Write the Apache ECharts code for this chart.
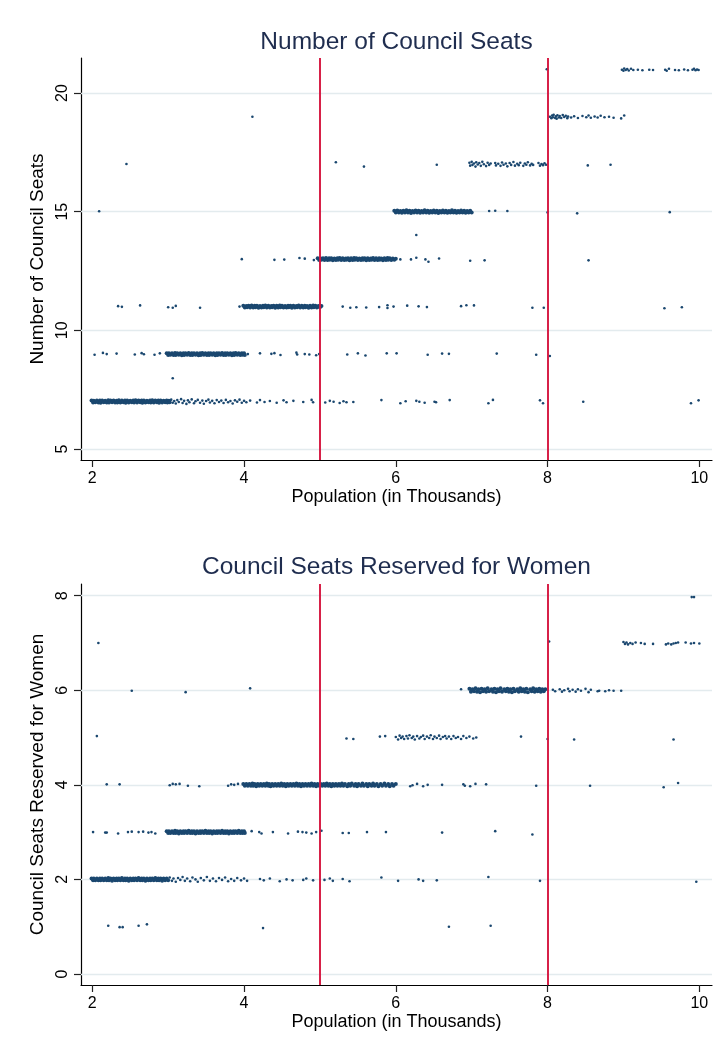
<!DOCTYPE html>
<html>
<head>
<meta charset="utf-8">
<script src="https://cdn.jsdelivr.net/npm/echarts@6/dist/echarts.min.js"></script>
<style>html,body{margin:0;padding:0;background:#fff}#c{width:716px;height:1051px}</style>
</head>
<body>
<div id="c"></div>
<script>
// ---- tick labels & reference values ----
const xTicks = [2, 4, 6, 8, 10];
const seatTicks = [5, 10, 15, 20];
const womenTicks = [0, 2, 4, 6, 8];
const thresholds = [5, 8];
const titleTop = 'Number of Council Seats';
const titleBottom = 'Council Seats Reserved for Women';
const xName = 'Population (in Thousands)';
const yNameTop = 'Number of Council Seats';
const yNameBottom = 'Council Seats Reserved for Women';

// ---- top panel: [population (thousands), seats] ----
const seatsBand7 = [[1.99,7.04],[2.01,6.96],[2.02,7.03],[2.04,6.97],[2.06,7.04],[2.08,6.96],[2.10,7.04],[2.11,6.95],[2.13,7.04],[2.15,6.97],[2.17,7.03],[2.19,6.96],[2.21,7.05],[2.22,6.96],[2.24,7.04],[2.26,6.97],[2.28,7.04],[2.30,6.96],[2.32,7.03],[2.33,6.96],[2.35,7.05],[2.37,6.96],[2.39,7.04],[2.41,6.97],[2.43,7.04],[2.44,6.95],[2.46,7.04],[2.48,6.96],[2.50,7.03],[2.52,6.97],[2.54,7.04],[2.55,6.96],[2.57,7.05],[2.59,6.96],[2.61,7.04],[2.63,6.97],[2.65,7.04],[2.66,6.95],[2.68,7.04],[2.70,6.96],[2.72,7.03],[2.74,6.97],[2.76,7.04],[2.77,6.96],[2.79,7.05],[2.81,6.96],[2.83,7.04],[2.85,6.97],[2.87,7.04],[2.88,6.95],[2.90,7.04],[2.92,6.96],[2.94,7.03],[2.96,6.97],[2.98,7.04],[2.99,6.96],[3.01,7.03],[3.02,6.97]];
const seatsBand9 = [[2.98,9.04],[3.00,8.96],[3.01,9.03],[3.03,8.97],[3.05,9.04],[3.07,8.96],[3.09,9.05],[3.10,8.96],[3.12,9.04],[3.14,8.97],[3.16,9.04],[3.18,8.95],[3.20,9.03],[3.21,8.96],[3.23,9.04],[3.25,8.97],[3.27,9.05],[3.29,8.96],[3.31,9.04],[3.32,8.96],[3.34,9.03],[3.36,8.97],[3.38,9.04],[3.40,8.95],[3.42,9.04],[3.43,8.96],[3.45,9.05],[3.47,8.97],[3.49,9.04],[3.51,8.96],[3.53,9.03],[3.54,8.96],[3.56,9.04],[3.58,8.97],[3.60,9.04],[3.62,8.95],[3.64,9.04],[3.65,8.96],[3.67,9.03],[3.69,8.97],[3.71,9.05],[3.73,8.96],[3.75,9.04],[3.76,8.96],[3.78,9.04],[3.80,8.97],[3.82,9.03],[3.84,8.95],[3.86,9.04],[3.87,8.96],[3.89,9.05],[3.91,8.97],[3.93,9.04],[3.95,8.96],[3.97,9.03],[3.98,8.97],[4.00,9.04],[4.01,8.96]];
const seatsBand11 = [[3.99,11.04],[4.01,10.96],[4.03,11.03],[4.04,10.97],[4.06,11.04],[4.08,10.96],[4.10,11.05],[4.12,10.96],[4.14,11.04],[4.15,10.97],[4.17,11.04],[4.19,10.95],[4.21,11.03],[4.23,10.96],[4.25,11.04],[4.26,10.97],[4.28,11.05],[4.30,10.96],[4.32,11.04],[4.34,10.96],[4.36,11.03],[4.37,10.97],[4.39,11.04],[4.41,10.95],[4.43,11.04],[4.45,10.96],[4.47,11.05],[4.48,10.97],[4.50,11.04],[4.52,10.96],[4.54,11.03],[4.56,10.96],[4.58,11.04],[4.59,10.97],[4.61,11.04],[4.63,10.95],[4.65,11.04],[4.67,10.96],[4.69,11.03],[4.70,10.97],[4.72,11.05],[4.74,10.96],[4.76,11.04],[4.78,10.96],[4.80,11.04],[4.81,10.97],[4.83,11.03],[4.85,10.95],[4.87,11.04],[4.89,10.96],[4.91,11.05],[4.92,10.97],[4.94,11.04],[4.96,10.96],[4.98,11.03],[5.00,10.97],[5.02,11.03]];
const seatsBand13 = [[4.97,13.04],[4.99,12.96],[5.01,13.03],[5.02,12.97],[5.04,13.04],[5.06,12.96],[5.08,13.05],[5.10,12.96],[5.12,13.04],[5.13,12.97],[5.15,13.04],[5.17,12.95],[5.19,13.03],[5.21,12.96],[5.23,13.04],[5.24,12.97],[5.26,13.05],[5.28,12.96],[5.30,13.04],[5.32,12.96],[5.34,13.03],[5.35,12.97],[5.37,13.04],[5.39,12.95],[5.41,13.04],[5.43,12.96],[5.45,13.05],[5.46,12.97],[5.48,13.04],[5.50,12.96],[5.52,13.03],[5.54,12.96],[5.56,13.04],[5.57,12.97],[5.59,13.04],[5.61,12.95],[5.63,13.04],[5.65,12.96],[5.67,13.03],[5.68,12.97],[5.70,13.05],[5.72,12.96],[5.74,13.04],[5.76,12.96],[5.78,13.04],[5.79,12.97],[5.81,13.03],[5.83,12.95],[5.85,13.04],[5.87,12.96],[5.89,13.05],[5.90,12.97],[5.92,13.04],[5.94,12.96],[5.96,13.03],[5.98,12.97],[6.00,13.02]];
const seatsBand15 = [[5.98,15.04],[6.00,14.96],[6.02,15.05],[6.04,14.97],[6.06,15.03],[6.08,14.95],[6.10,15.04],[6.12,14.96],[6.14,15.06],[6.16,14.97],[6.18,15.04],[6.20,14.94],[6.22,15.03],[6.24,14.96],[6.26,15.05],[6.28,14.97],[6.30,15.04],[6.32,14.95],[6.34,15.03],[6.36,14.96],[6.38,15.06],[6.40,14.97],[6.42,15.04],[6.44,14.95],[6.46,15.03],[6.48,14.96],[6.50,15.05],[6.52,14.97],[6.54,15.04],[6.56,14.94],[6.58,15.03],[6.60,14.96],[6.62,15.05],[6.64,14.97],[6.66,15.04],[6.68,14.95],[6.70,15.03],[6.72,14.96],[6.74,15.06],[6.76,14.97],[6.78,15.04],[6.80,14.95],[6.82,15.03],[6.84,14.96],[6.86,15.05],[6.88,14.97],[6.90,15.04],[6.92,14.95],[6.94,15.03],[6.96,14.97],[6.98,15.04],[7.00,14.97]];

const seatsScatter7 = [[3.04,7.08],[3.06,6.95],[3.08,7.02],[3.10,6.92],[3.12,7.06],[3.14,6.98],[3.17,7.10],[3.19,6.94],[3.21,7.03],[3.24,6.90],[3.26,7.05],[3.28,6.97],[3.31,7.09],[3.34,6.93],[3.36,7.01],[3.39,7.07],[3.42,6.95],[3.45,7.04],[3.47,6.91],[3.50,7.02],[3.53,7.08],[3.55,6.96],[3.58,7.03],[3.61,6.93],[3.64,7.06],[3.67,6.98],[3.70,7.04],[3.73,6.94],[3.76,7.07],[3.79,6.97],[3.82,7.02],[3.85,6.92],[3.88,7.05],[3.91,6.99],[3.94,7.08],[3.97,6.95],[4.00,7.03],[4.03,6.97],[4.08,7.04],[4.17,6.96],[4.21,7.06],[4.27,6.98],[4.34,7.02],[4.43,6.95],[4.52,7.05],[4.56,6.97],[4.65,7.03],[4.78,6.98],[4.89,7.07],[4.91,6.97],[5.07,6.96],[5.13,7.03],[5.18,6.99],[5.26,6.94],[5.31,7.01],[5.35,6.97],[5.44,6.98],[5.81,7.06],[6.06,6.93],[6.13,7.01],[6.27,7.03],[6.31,6.99],[6.38,6.95],[6.51,6.99],[6.53,6.97],[6.71,7.06],[7.22,6.93],[7.28,7.07],[7.90,7.05],[7.94,6.93],[8.47,6.99],[9.89,6.93],[9.99,7.05]];
const seatsScatter8 = [[3.06,7.98]];
const seatsScatter9 = [[2.03,8.97],[2.14,9.05],[2.19,9.00],[2.32,9.02],[2.56,8.98],[2.65,9.04],[2.68,8.99],[2.82,8.97],[2.89,9.03],[4.05,9.00],[4.21,9.03],[4.36,9.01],[4.40,9.04],[4.48,8.96],[4.69,9.06],[4.70,8.98],[4.80,9.00],[4.86,8.98],[4.95,8.95],[4.99,9.00],[5.36,8.98],[5.50,9.03],[5.60,8.94],[5.88,9.03],[6.01,9.03],[6.42,8.97],[6.61,9.02],[6.70,9.01],[7.33,9.02],[7.85,8.97],[8.03,8.92]];
const seatsScatter11 = [[2.34,11.02],[2.39,10.99],[2.63,11.05],[3.00,10.97],[3.06,10.95],[3.10,11.03],[3.42,10.95],[3.94,11.00],[5.30,11.00],[5.40,10.95],[5.48,10.97],[5.61,10.96],[5.78,10.98],[5.89,11.06],[5.89,10.94],[5.97,11.00],[6.15,11.04],[6.30,11.01],[6.41,10.98],[6.86,11.02],[6.93,11.06],[7.03,11.05],[7.80,10.95],[7.95,10.95],[9.54,10.93],[9.77,10.97]];
const seatsScatter13 = [[3.97,13.00],[4.40,12.97],[4.53,12.98],[4.73,13.05],[4.80,13.02],[4.92,12.96],[6.06,12.99],[6.20,12.99],[6.27,13.06],[6.39,12.99],[6.43,12.89],[6.57,13.03],[6.98,12.93],[7.17,12.95],[8.54,12.95]];
const seatsScatter14 = [[6.27,14.02]];
const seatsScatter15 = [[2.09,15.02],[7.23,15.03],[7.31,15.04],[7.47,15.03],[8.00,14.97],[8.39,14.93],[9.61,14.98]];
const seatsScatter17 = [[2.45,17.01],[5.21,17.08],[5.58,16.90],[6.54,16.98],[6.97,17.06],[6.98,16.94],[7.00,17.10],[7.01,16.97],[7.03,17.03],[7.05,16.90],[7.06,17.08],[7.08,16.99],[7.10,17.05],[7.12,16.93],[7.14,17.10],[7.16,17.00],[7.19,16.92],[7.21,17.06],[7.23,16.97],[7.25,17.03],[7.31,17.05],[7.32,16.95],[7.35,17.02],[7.38,16.93],[7.40,17.07],[7.42,16.98],[7.45,17.03],[7.47,16.91],[7.50,17.05],[7.52,16.97],[7.55,17.09],[7.57,16.94],[7.60,17.02],[7.62,16.96],[7.64,17.06],[7.68,16.93],[7.70,17.03],[7.72,16.98],[7.74,17.08],[7.77,16.95],[7.79,17.02],[7.81,16.97],[7.88,17.05],[7.90,16.94],[7.92,17.01],[7.94,16.96],[7.96,17.04],[7.98,16.98],[8.53,16.95],[8.83,16.98]];
const seatsScatter19 = [[4.11,19.00],[8.03,19.00],[8.05,18.94],[8.06,19.05],[8.07,18.98],[8.08,19.08],[8.10,18.95],[8.11,19.02],[8.12,18.92],[8.13,19.06],[8.15,18.97],[8.16,19.03],[8.18,18.95],[8.20,19.07],[8.22,18.99],[8.24,19.04],[8.26,18.94],[8.27,19.01],[8.31,18.97],[8.35,19.02],[8.40,18.95],[8.46,19.03],[8.51,18.98],[8.54,19.05],[8.57,18.96],[8.62,19.01],[8.66,18.97],[8.70,19.04],[8.75,18.98],[8.81,19.00],[8.87,18.96],[8.97,18.93],[9.01,19.05]];
const seatsScatter21 = [[7.99,21.00],[8.98,20.98],[9.00,20.94],[9.01,21.03],[9.03,20.97],[9.05,21.01],[9.07,20.95],[9.10,21.02],[9.13,20.97],[9.19,20.98],[9.25,20.96],[9.34,20.98],[9.39,20.97],[9.55,20.98],[9.57,20.94],[9.60,21.02],[9.68,20.97],[9.73,20.96],[9.80,20.99],[9.85,20.96],[9.91,20.98],[9.93,21.02],[9.95,20.96],[9.97,20.99],[9.99,20.97]];

// ---- bottom panel: [population (thousands), seats reserved for women] ----
const womenBand2 = [[1.99,2.02],[2.01,1.98],[2.02,2.02],[2.04,1.98],[2.06,2.02],[2.08,1.98],[2.10,2.02],[2.11,1.98],[2.13,2.02],[2.15,1.98],[2.17,2.02],[2.19,1.98],[2.21,2.03],[2.22,1.98],[2.24,2.02],[2.26,1.97],[2.28,2.02],[2.30,1.98],[2.32,2.02],[2.33,1.98],[2.35,2.02],[2.37,1.98],[2.39,2.03],[2.41,1.98],[2.43,2.02],[2.44,1.98],[2.46,2.02],[2.48,1.97],[2.50,2.02],[2.52,1.98],[2.54,2.02],[2.55,1.98],[2.57,2.02],[2.59,1.98],[2.61,2.03],[2.63,1.98],[2.65,2.02],[2.66,1.98],[2.68,2.02],[2.70,1.97],[2.72,2.02],[2.74,1.98],[2.76,2.02],[2.77,1.98],[2.79,2.02],[2.81,1.98],[2.83,2.03],[2.85,1.98],[2.87,2.02],[2.88,1.98],[2.90,2.02],[2.92,1.97],[2.94,2.02],[2.96,1.98],[2.98,2.02],[3.00,1.98]];
const womenBand3 = [[2.98,3.02],[3.00,2.98],[3.01,3.02],[3.03,2.98],[3.05,3.02],[3.07,2.98],[3.09,3.03],[3.10,2.98],[3.12,3.02],[3.14,2.97],[3.16,3.02],[3.18,2.98],[3.20,3.02],[3.21,2.98],[3.23,3.02],[3.25,2.98],[3.27,3.03],[3.29,2.98],[3.31,3.02],[3.32,2.98],[3.34,3.02],[3.36,2.97],[3.38,3.02],[3.40,2.98],[3.42,3.02],[3.43,2.98],[3.45,3.02],[3.47,2.98],[3.49,3.03],[3.51,2.98],[3.53,3.02],[3.54,2.98],[3.56,3.02],[3.58,2.97],[3.60,3.02],[3.62,2.98],[3.64,3.02],[3.65,2.98],[3.67,3.02],[3.69,2.98],[3.71,3.03],[3.73,2.98],[3.75,3.02],[3.76,2.98],[3.78,3.02],[3.80,2.97],[3.82,3.02],[3.84,2.98],[3.86,3.02],[3.87,2.98],[3.89,3.02],[3.91,2.98],[3.93,3.03],[3.95,2.98],[3.97,3.02],[3.98,2.98],[4.00,3.02],[4.01,2.98]];
const womenBand4 = [[3.99,4.02],[4.01,3.98],[4.03,4.02],[4.05,3.98],[4.07,4.02],[4.09,3.98],[4.11,4.03],[4.12,3.98],[4.14,4.02],[4.16,3.97],[4.18,4.02],[4.20,3.98],[4.22,4.02],[4.24,3.98],[4.26,4.02],[4.28,3.98],[4.30,4.03],[4.32,3.98],[4.33,4.02],[4.35,3.97],[4.37,4.02],[4.39,3.98],[4.41,4.02],[4.43,3.98],[4.45,4.02],[4.47,3.98],[4.49,4.03],[4.51,3.98],[4.53,4.02],[4.55,3.97],[4.57,4.02],[4.59,3.98],[4.61,4.02],[4.63,3.98],[4.65,4.02],[4.67,3.98],[4.69,4.03],[4.71,3.98],[4.73,4.02],[4.75,3.97],[4.77,4.02],[4.79,3.98],[4.81,4.02],[4.83,3.98],[4.85,4.02],[4.87,3.98],[4.89,4.03],[4.91,3.98],[4.93,4.02],[4.95,3.97],[4.97,4.02],[4.99,3.98],[5.01,4.02],[5.03,3.98],[5.05,4.02],[5.07,3.98],[5.09,4.03],[5.11,3.98],[5.13,4.02],[5.15,3.97],[5.17,4.02],[5.19,3.98],[5.21,4.02],[5.23,3.98],[5.25,4.02],[5.27,3.98],[5.29,4.03],[5.31,3.98],[5.33,4.02],[5.36,3.97],[5.38,4.02],[5.40,3.98],[5.42,4.03],[5.45,3.98],[5.47,4.02],[5.49,3.97],[5.51,4.02],[5.54,3.98],[5.56,4.03],[5.58,3.98],[5.61,4.02],[5.63,3.97],[5.65,4.02],[5.68,3.98],[5.70,4.03],[5.72,3.98],[5.75,4.02],[5.77,3.97],[5.80,4.02],[5.82,3.98],[5.85,4.03],[5.87,3.98],[5.90,4.02],[5.92,3.97],[5.95,4.02],[5.97,3.98],[6.00,4.02]];
const womenBand6 = [[6.97,6.03],[6.99,5.97],[7.01,6.02],[7.03,5.98],[7.05,6.04],[7.07,5.97],[7.09,6.02],[7.11,5.96],[7.13,6.03],[7.15,5.98],[7.17,6.02],[7.19,5.97],[7.21,6.04],[7.23,5.98],[7.26,6.02],[7.28,5.97],[7.30,6.03],[7.32,5.96],[7.34,6.02],[7.36,5.98],[7.38,6.04],[7.40,5.97],[7.43,6.02],[7.45,5.98],[7.47,6.03],[7.49,5.97],[7.51,6.02],[7.53,5.96],[7.55,6.03],[7.57,5.98],[7.60,6.02],[7.62,5.97],[7.64,6.04],[7.66,5.98],[7.68,6.02],[7.70,5.97],[7.72,6.03],[7.74,5.96],[7.77,6.02],[7.79,5.98],[7.81,6.04],[7.83,5.97],[7.85,6.02],[7.87,5.98],[7.89,6.03],[7.91,5.97],[7.93,6.02],[7.95,5.98],[7.97,6.02]];

const womenScatter1 = [[2.21,1.02],[2.36,0.99],[2.40,0.99],[2.61,1.02],[2.72,1.05],[4.25,0.97],[6.70,1.00],[7.25,1.02]];
const womenScatter2 = [[3.02,2.04],[3.05,1.97],[3.07,2.02],[3.10,1.95],[3.13,2.03],[3.16,1.99],[3.19,2.05],[3.22,1.97],[3.25,2.02],[3.29,1.96],[3.32,2.04],[3.36,2.00],[3.39,1.95],[3.43,2.03],[3.47,1.98],[3.51,2.05],[3.55,1.97],[3.59,2.02],[3.63,1.96],[3.67,2.03],[3.71,1.99],[3.75,2.04],[3.79,1.96],[3.83,2.01],[3.87,1.97],[3.91,2.03],[3.96,1.98],[4.00,2.02],[4.04,1.97],[4.21,2.01],[4.26,1.98],[4.34,2.02],[4.47,1.96],[4.56,2.00],[4.64,1.98],[4.78,1.99],[4.82,2.02],[4.91,1.98],[5.06,1.99],[5.13,2.02],[5.17,1.97],[5.30,2.01],[5.39,1.96],[5.81,2.04],[6.03,1.97],[6.30,2.00],[6.36,1.97],[6.54,1.98],[7.22,2.05],[7.90,1.97],[9.96,1.95]];
const womenScatter3 = [[2.01,3.00],[2.17,2.99],[2.19,2.99],[2.34,2.97],[2.47,3.00],[2.52,3.01],[2.61,3.00],[2.67,3.01],[2.74,2.99],[2.78,3.00],[2.83,2.97],[4.10,3.02],[4.20,3.00],[4.23,2.97],[4.38,3.00],[4.58,2.97],[4.71,3.01],[4.77,3.00],[4.82,2.99],[4.89,2.97],[4.95,3.00],[5.02,3.03],[5.30,2.98],[5.38,2.98],[5.62,3.00],[5.87,3.00],[6.61,2.99],[7.31,3.02],[7.80,2.95]];
const womenScatter4 = [[2.19,4.01],[2.36,4.01],[3.02,3.99],[3.06,4.02],[3.10,4.01],[3.15,4.02],[3.26,3.98],[3.41,3.97],[3.79,3.98],[3.83,4.01],[3.87,4.00],[3.92,4.02],[6.19,3.97],[6.22,3.99],[6.28,4.02],[6.36,3.97],[6.42,4.00],[6.61,4.00],[6.89,4.01],[6.91,3.98],[6.98,3.97],[7.05,4.02],[7.19,4.01],[7.85,3.98],[8.56,3.98],[9.53,3.95],[9.72,4.04]];
const womenScatter5 = [[2.06,5.03],[5.35,4.98],[5.44,4.97],[5.79,5.02],[5.86,5.03],[6.00,5.01],[6.03,4.96],[6.05,5.04],[6.07,4.99],[6.09,5.02],[6.11,4.97],[6.14,5.03],[6.16,4.98],[6.18,5.05],[6.21,4.99],[6.23,5.02],[6.25,4.96],[6.28,5.03],[6.31,4.98],[6.33,5.01],[6.36,5.04],[6.38,4.97],[6.41,5.02],[6.44,4.99],[6.46,5.05],[6.49,4.97],[6.51,5.02],[6.54,4.99],[6.57,5.04],[6.59,4.97],[6.62,5.01],[6.65,5.03],[6.67,4.98],[6.70,5.02],[6.73,4.97],[6.76,5.03],[6.79,4.99],[6.82,5.01],[6.86,4.97],[6.89,5.03],[6.93,4.99],[6.97,5.02],[7.02,4.98],[7.06,5.00],[7.65,5.02],[8.00,4.97],[8.35,4.96],[9.66,4.96]];
const womenScatter6 = [[2.52,5.99],[3.23,5.96],[4.08,6.04],[6.86,6.02],[8.07,6.01],[8.10,5.98],[8.16,6.02],[8.19,5.97],[8.22,6.00],[8.27,6.03],[8.29,5.98],[8.33,6.01],[8.37,5.97],[8.40,6.02],[8.44,5.99],[8.50,6.03],[8.54,5.96],[8.57,6.01],[8.66,5.98],[8.68,5.99],[8.76,5.98],[8.81,6.00],[8.87,5.99],[8.97,5.99]];
const womenScatter7 = [[2.08,7.00],[8.02,7.03],[9.00,7.02],[9.02,6.98],[9.04,7.01],[9.06,6.97],[9.09,7.00],[9.12,6.98],[9.16,7.01],[9.23,7.00],[9.28,6.98],[9.39,6.98],[9.56,6.97],[9.59,6.99],[9.63,6.97],[9.66,6.99],[9.69,7.00],[9.72,7.01],[9.82,7.01],[9.89,6.99],[9.93,7.00],[10.00,6.99]];
const womenScatter8 = [[9.90,7.97],[9.93,7.97]];

// ---- assemble ----
const seatsBands = [].concat(seatsBand7, seatsBand9, seatsBand11, seatsBand13, seatsBand15);
const seatsScatter = [].concat(seatsScatter7, seatsScatter8, seatsScatter9, seatsScatter11, seatsScatter13, seatsScatter14, seatsScatter15, seatsScatter17, seatsScatter19, seatsScatter21);
const womenBands = [].concat(womenBand2, womenBand3, womenBand4, womenBand6);
const womenScatter = [].concat(womenScatter1, womenScatter2, womenScatter3, womenScatter4, womenScatter5, womenScatter6, womenScatter7, womenScatter8);

const FONT = '"Liberation Sans", Arial, Helvetica, sans-serif';
const DOT = '#1a476f';
const RED = '#d5163f';
const GRID = '#e3ebee';
const TITLE = '#1f2d4f';

function xAxisFor(gi) {
  return {
    type: 'value', gridIndex: gi, min: 1.851, max: 10.167,
    name: xName, nameLocation: 'middle', nameGap: 28,
    nameTextStyle: { fontFamily: FONT, fontSize: 18, color: '#000' },
    axisLine: { show: true, onZero: false, lineStyle: { color: '#000', width: 1.2 } },
    axisTick: { show: true, length: 7, customValues: xTicks, lineStyle: { color: '#222', width: 1.2 } },
    axisLabel: { customValues: xTicks, margin: 11, fontFamily: FONT, fontSize: 16, color: '#000' },
    splitLine: { show: false }
  };
}
function yAxisFor(gi, min, max, ticks, name) {
  return {
    type: 'value', gridIndex: gi, min: min, max: max,
    name: name, nameLocation: 'middle', nameGap: 32,
    nameTextStyle: { fontFamily: FONT, fontSize: 19, color: '#000' },
    axisLine: { show: true, onZero: false, lineStyle: { color: '#000', width: 1.2 } },
    axisTick: { show: true, length: 7, customValues: ticks, lineStyle: { color: '#222', width: 1.2 } },
    axisLabel: { customValues: ticks, rotate: 90, margin: 10, fontFamily: FONT, fontSize: 16, color: '#000' },
    splitLine: { show: false }
  };
}
function gridLines(gi, ticks) {
  return {
    type: 'scatter', xAxisIndex: gi, yAxisIndex: gi, data: [], silent: true,
    markLine: {
      z: 1, silent: true, symbol: ['none', 'none'], label: { show: false },
      lineStyle: { color: GRID, width: 1.3, type: 'solid' },
      emphasis: { disabled: true },
      data: ticks.map(v => ({ yAxis: v }))
    }
  };
}
function refLines(gi) {
  return {
    type: 'scatter', xAxisIndex: gi, yAxisIndex: gi, data: [], silent: true, z: 6,
    markLine: {
      z: 6, silent: true, symbol: ['none', 'none'], label: { show: false },
      lineStyle: { color: RED, width: 1.9, type: 'solid' },
      emphasis: { disabled: true },
      data: thresholds.map(v => ({ xAxis: v }))
    }
  };
}
function dots(gi, data, size) {
  return {
    type: 'scatter', xAxisIndex: gi, yAxisIndex: gi, data: data, symbol: 'circle',
    symbolSize: size, itemStyle: { color: DOT, opacity: 1 }, silent: true, z: 3
  };
}

const chart = echarts.init(document.getElementById('c'), null, { renderer: 'canvas' });
chart.setOption({
  animation: false,
  backgroundColor: '#fff',
  grid: [
    { left: 81, top: 58, width: 631, height: 402 },
    { left: 81, top: 584, width: 631, height: 401 }
  ],
  xAxis: [xAxisFor(0), xAxisFor(1)],
  yAxis: [
    yAxisFor(0, 4.537, 21.475, seatTicks, yNameTop),
    yAxisFor(1, -0.233, 8.247, womenTicks, yNameBottom)
  ],
  graphic: [
    { type: 'text', x: 396.5, y: 42, style: { text: titleTop, fill: TITLE, font: '24.5px ' + FONT, align: 'center', verticalAlign: 'middle', textAlign: 'center', textVerticalAlign: 'middle' } },
    { type: 'text', x: 396.5, y: 567, style: { text: titleBottom, fill: TITLE, font: '24.5px ' + FONT, align: 'center', verticalAlign: 'middle', textAlign: 'center', textVerticalAlign: 'middle' } }
  ],
  series: [
    gridLines(0, seatTicks), gridLines(1, womenTicks),
    dots(0, seatsBands, 4), dots(0, seatsScatter, 2.6),
    dots(1, womenBands, 4), dots(1, womenScatter, 2.6),
    refLines(0), refLines(1)
  ]
});
</script>
</body>
</html>
